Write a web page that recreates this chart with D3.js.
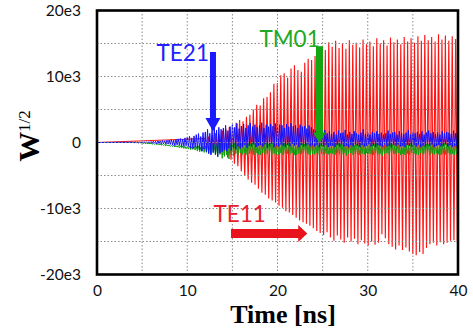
<!DOCTYPE html>
<html><head><meta charset="utf-8">
<script src="https://cdn.jsdelivr.net/npm/d3@7"></script>
<style>
body{margin:0;background:#fff;}
svg{display:block;}
</style></head>
<body>
<svg id="chart" width="473" height="335"></svg>
<script>
// ---------------- data (values in units of 1e3) ----------------
const xTicks = [0, 10, 20, 30, 40];
const xTickLabels = ["0", "10", "20", "30", "40"];
const yTicks = [-20, -10, 0, 10, 20];
const yTickLabels = ["-20e3", "-10e3", "0", "10e3", "20e3"];
const xGrid = [5, 10, 15, 20, 25, 30, 35];
const yGrid = [-15, -10, -5, 0, 5, 10, 15];

// TE11 (red): alternating peaks, sampled from 12 ns every 0.19 ns
const redStart = 12.0, redStep = 0.19;
const redValues = [
 0.6,-0.7, 0.9,-0.8, 1.1,-1.2, 1.4,-1.3, 1.3,-1.7, 1.8,-1.9, 2.0,-2.3, 2.4,-2.6,
 2.2,-3.2, 3.0,-3.6, 3.4,-4.4, 3.2,-5.0, 3.9,-5.6, 4.2,-6.1, 5.0,-6.4, 5.7,-7.0,
 5.6,-7.6, 6.7,-7.9, 6.9,-8.5, 7.6,-8.8, 8.9,-9.1, 9.0,-9.6, 10.2,-9.9, 10.5,-10.4,
 9.8,-10.6, 11.2,-11.0, 11.7,-11.4, 11.0,-11.8, 10.7,-12.1, 12.1,-12.3, 12.7,-12.6, 12.5,-13.0,
 13.1,-13.4, 13.8,-13.7, 14.6,-14.0, 14.0,-13.6, 15.2,-14.4, 14.5,-14.9, 15.4,-14.1, 14.3,-14.7,
 15.0,-15.2, 14.2,-14.4, 15.5,-15.0, 14.8,-14.6, 15.1,-15.4, 14.4,-14.8, 15.6,-15.3, 14.9,-15.6,
 15.3,-15.0, 14.6,-15.5, 15.8,-15.2, 15.0,-13.9, 15.5,-14.5, 14.7,-15.4, 15.9,-15.8, 15.2,-16.2,
 15.6,-15.6, 14.9,-16.3, 16.0,-15.9, 15.3,-16.5, 15.8,-16.9, 15.1,-17.1, 16.1,-16.6, 15.4,-16.9,
 16.3,-16.0, 15.5,-15.4, 16.0,-15.2, 15.3,-15.6, 16.4,-15.1, 15.6,-15.4, 16.2,-15.2, 15.4,-14.9,
 16.1,-14.8, 15.7,-15.1
];

// TE21 (blue): flat until 4 ns, then sampled every 0.125 ns
const blueStart = 4, blueStep = 0.125;
const blueValues = [
 0.03,-0.04,0.06,-0.02,0.05,-0.07,0.04,-0.05,
 0.08,-0.06,0.1,-0.09,0.07,-0.1,0.12,-0.08,
 0.15,-0.12,0.2,-0.1,0.18,-0.22,0.25,-0.15,
 0.22,-0.28,0.3,-0.2,0.26,-0.3,0.33,-0.25,
 0.38,-0.3,0.45,-0.4,0.35,-0.5,0.48,-0.36,
 0.55,-0.45,0.6,-0.62,0.5,-0.58,0.7,-0.5,
 0.8,-0.6,0.95,-0.85,0.7,-0.9,1.0,-0.75,
 1.2,-0.9,1.35,-1.1,0.9,-1.3,1.5,-1.0,
 1.6,-1.4,2.0,-1.7,1.4,-1.9,2.2,-1.5,
 2.5,-1.8,1.9,-2.1,2.3,-1.6,2.0,-1.4,
 2.2,-1.1,2.6,-1.3,1.8,-0.9,2.4,-1.2,
 2.7,-0.8,2.3,-1.0,2.9,-0.6,2.1,-0.9,
 2.5,-0.7,2.8,-0.4,2.2,-0.8,2.6,-0.5,
 2.9,-0.6,2.4,-0.3,2.7,-0.7,2.3,-0.5,
 2.6,-0.4,3.0,-0.6,2.2,-0.3,2.7,-0.8,
 2.4,-0.5,2.8,-0.2,2.5,-0.7,2.9,-0.4,
 2.3,-0.6,2.7,-0.3,2.6,-0.5,2.2,-0.7,
 2.8,-0.4,2.4,-0.6,2.9,-0.2,2.5,-0.5,
 2.6,-0.3,2.2,-0.7,2.7,-0.4,2.4,-0.6,
 2.5,-0.5,2.1,-0.3,2.6,-0.6,2.3,-0.4,
 2.0,-0.6,1.8,-0.4,2.2,-0.7,1.7,-0.5,
 1.6,-0.6,1.9,-0.4,1.4,-0.7,1.7,-0.5,
 1.3,-0.5,1.6,-0.7,1.2,-0.4,1.8,-0.6,
 1.4,-0.3,1.5,-0.6,1.9,-0.5,1.2,-0.7,
 1.6,-0.4,1.3,-0.6,1.7,-0.3,1.4,-0.5,
 1.2,-0.7,1.5,-0.4,2.0,-0.6,1.3,-0.5,
 1.5,-0.3,1.2,-0.6,1.6,-0.5,1.4,-0.7,
 1.7,-0.4,1.3,-0.5,1.5,-0.6,1.2,-0.3,
 1.4,-0.6,1.8,-0.5,1.3,-0.7,1.5,-0.4,
 1.6,-0.5,1.2,-0.3,1.7,-0.6,1.4,-0.5,
 1.3,-0.7,1.5,-0.4,1.9,-0.5,1.2,-0.6,
 1.5,-0.4,1.4,-0.6,1.6,-0.3,1.3,-0.7,
 1.7,-0.5,1.2,-0.6,1.5,-0.4,1.8,-0.5,
 1.4,-0.3,1.6,-0.7,1.3,-0.5,1.5,-0.4,
 1.2,-0.6,1.7,-0.5,1.4,-0.3,1.6,-0.6,
 1.5,-0.4,1.3,-0.7,1.8,-0.5,1.4,-0.6,
 0.5
];

// TM01 (green): flat until 4.5 ns, then sampled every 0.125 ns
const greenStart = 4.5, greenStep = 0.125;
const greenValues = [
 0,-0.02,0.01,-0.04,
 -0.05,-0.12,-0.04,-0.15,-0.08,-0.18,-0.1,-0.2,
 -0.12,-0.25,-0.15,-0.28,-0.18,-0.3,-0.2,-0.33,
 -0.25,-0.4,-0.3,-0.45,-0.32,-0.5,-0.35,-0.52,
 -0.4,-0.6,-0.42,-0.62,-0.45,-0.68,-0.48,-0.7,
 -0.45,-0.8,-0.5,-0.85,-0.52,-0.9,-0.55,-0.95,
 -0.6,-1.0,-0.55,-1.1,-0.65,-1.05,-0.6,-1.15,
 -0.6,-1.3,-0.5,-1.4,-0.7,-1.35,-0.55,-1.5,
 -0.5,-1.5,-0.4,-1.6,-0.6,-1.7,-0.3,-1.55,
 -0.2,-1.9,-0.4,-2.2,-0.1,-1.8,-0.3,-2.4,
 -0.2,-2.1,0.0,-1.9,-0.3,-2.5,-0.1,-1.8,
 -0.2,-2.0,0.0,-1.7,-0.3,-1.9,-0.1,-1.6,
 -0.1,-1.8,0.0,-1.6,-0.2,-1.9,-0.1,-1.7,
 -0.2,-1.7,0.1,-1.9,-0.1,-1.6,-0.3,-1.8,
 0.0,-1.9,-0.2,-1.6,-0.1,-1.8,0.1,-1.7,
 -0.2,-1.6,-0.1,-1.9,0.0,-1.7,-0.3,-1.8,
 -0.1,-1.8,-0.2,-1.6,0.1,-1.9,-0.1,-1.7,
 -0.3,-1.7,0.0,-1.8,-0.2,-1.6,-0.1,-1.9,
 -0.1,-1.9,-0.3,-1.7,0.0,-1.8,-0.2,-1.6,
 -0.2,-1.6,-0.1,-1.8,-0.3,-1.9,0.0,-1.7,
 -0.3,-1.8,-0.2,-1.6,-0.4,-1.9,-0.1,-1.7,
 -0.2,-1.9,-0.4,-1.7,-0.1,-1.8,-0.3,-1.6,
 -0.4,-1.7,-0.2,-1.9,-0.3,-1.6,-0.1,-1.8,
 -0.2,-1.8,-0.3,-1.6,-0.4,-2.0,-0.2,-1.7,
 -0.3,-1.6,-0.1,-1.9,-0.4,-1.7,-0.2,-1.8,
 -0.4,-1.9,-0.2,-1.7,-0.3,-1.8,-0.1,-1.6,
 -0.2,-1.7,-0.4,-1.8,-0.2,-1.9,-0.3,-1.6,
 -0.1,-1.8,-0.3,-1.7,-0.2,-2.0,-0.4,-1.7,
 -0.3,-1.6,-0.2,-1.9,-0.1,-1.8,-0.3,-1.7,
 -0.4,-1.8,-0.1,-1.6,-0.3,-1.9,-0.2,-1.7,
 -0.2,-1.9,-0.3,-1.7,-0.4,-1.8,-0.1,-1.6,
 -0.3,-1.7,-0.2,-1.8,-0.1,-1.9,-0.3,-1.6,
 -0.2,-1.8,-0.4,-1.7,-0.2,-1.6,-0.3,-1.9,
 -0.1,-1.7,-0.3,-1.8,-0.2,-1.6,-0.4,-1.8,
 -0.3,-1.9,-0.2,-1.7,-0.1,-1.8,-0.3,-1.6,
 -0.2,-1.8,-0.3,-1.7,-0.4,-1.9,-0.2,-1.7,
 -1.0
];

// annotations (data coordinates: ns, 1e3)
const labels = [
  {text: "TE21", t: 6.6,  v: 12.3, color: "#2222ff"},
  {text: "TM01", t: 18.0, v: 14.4, color: "#22a822"},
  {text: "TE11", t: 12.9, v: -12.1, color: "#e8202a"}
];
const te21Arrow = {t: 12.85, v0: 13.7, vBase: 3.7, vTip: 1.7};
const tm01Arrow = {t: 24.65, v0: 14.6, vBase: 1.5, vTip: -0.1};
const te11Arrow = {v: -13.8, t0: 14.85, tBase: 22.3, tTip: 23.3};

// ---------------- drawing ----------------
const svg = d3.select("#chart");
const x = d3.scaleLinear().domain([0, 40]).range([97, 458]);
const y = d3.scaleLinear().domain([-20, 20]).range([274.5, 10.5]);

svg.append("defs").append("clipPath").attr("id", "clip")
  .append("rect").attr("x", 97).attr("y", 10.5).attr("width", 361).attr("height", 264);

const plot = svg.append("g").attr("clip-path", "url(#clip)");

function series(start, step, vals) {
  const pts = vals.map((v, i) => [start + i * step, v]);
  if (start > 0) pts.unshift([0, 0]);
  return pts;
}
const line = d3.line().x(d => x(d[0])).y(d => y(d[1]));

plot.append("path").datum(series(redStart, redStep, redValues))
  .attr("d", line).attr("fill", "none").attr("stroke", "#ff1414").attr("stroke-width", 1.15);
plot.append("path").datum(series(greenStart, greenStep, greenValues))
  .attr("d", line).attr("fill", "none").attr("stroke", "#10a010").attr("stroke-width", 1);
plot.append("path").datum(series(blueStart, blueStep, blueValues))
  .attr("d", line).attr("fill", "none").attr("stroke", "#1010ff").attr("stroke-width", 1);

// grid (drawn over the data like the original)
const grid = svg.append("g").attr("stroke", "#8a8a8a").attr("stroke-width", 1)
  .attr("stroke-dasharray", "1.5,2");
grid.selectAll("line.gx").data(xGrid).join("line")
  .attr("x1", d => x(d)).attr("x2", d => x(d)).attr("y1", y(20)).attr("y2", y(-20));
grid.selectAll("line.gy").data(yGrid).join("line")
  .attr("x1", x(0)).attr("x2", x(40)).attr("y1", d => y(d)).attr("y2", d => y(d));

// axes
const xAxis = d3.axisBottom(x).tickValues(xTicks).tickSize(0).tickPadding(10)
  .tickFormat((d, i) => xTickLabels[i]);
const yAxis = d3.axisLeft(y).tickValues(yTicks).tickSize(0).tickPadding(16)
  .tickFormat((d, i) => yTickLabels[i]);
const gx = svg.append("g").attr("transform", `translate(0,${y(-20)})`).call(xAxis);
const gy = svg.append("g").attr("transform", `translate(${x(0)},0)`).call(yAxis);
[gx, gy].forEach(g => {
  g.select(".domain").remove();
  g.selectAll("text").attr("font-family", "Lato, 'Open Sans', sans-serif")
    .attr("font-size", 15.5).attr("fill", "#111");
});

// frame
svg.append("rect").attr("x", x(0)).attr("y", y(20)).attr("width", x(40) - x(0))
  .attr("height", y(-20) - y(20)).attr("fill", "none").attr("stroke", "#000").attr("stroke-width", 2.6);

// arrows
function vArrow(a, color, shaftW, headW) {
  const cx = x(a.t);
  const pts = [
    [cx - shaftW / 2, y(a.v0)], [cx + shaftW / 2, y(a.v0)], [cx + shaftW / 2, y(a.vBase)],
    [cx + headW / 2, y(a.vBase)], [cx, y(a.vTip)], [cx - headW / 2, y(a.vBase)],
    [cx - shaftW / 2, y(a.vBase)]
  ];
  svg.append("polygon").attr("points", pts.map(p => p.join(",")).join(" ")).attr("fill", color);
}
vArrow(te21Arrow, "#1a1aff", 6, 15);
vArrow(tm01Arrow, "#12a612", 7, 13);
(function () {
  const a = te11Arrow, cy = y(a.v), sh = 9, hh = 17;
  const pts = [
    [x(a.t0), cy - sh / 2], [x(a.tBase), cy - sh / 2], [x(a.tBase), cy - hh / 2],
    [x(a.tTip), cy], [x(a.tBase), cy + hh / 2], [x(a.tBase), cy + sh / 2], [x(a.t0), cy + sh / 2]
  ];
  svg.append("polygon").attr("points", pts.map(p => p.join(",")).join(" ")).attr("fill", "#e8141c");
})();

// labels
svg.selectAll("text.lab").data(labels).join("text").attr("class", "lab")
  .attr("x", d => x(d.t)).attr("y", d => y(d.v)).text(d => d.text)
  .attr("fill", d => d.color).attr("font-family", "Lato, 'Open Sans', sans-serif")
  .attr("font-size", 22.5);

// axis titles
svg.append("text").attr("x", 283).attr("y", 323).attr("text-anchor", "middle")
  .attr("font-family", "'Liberation Serif', 'Times New Roman', serif").attr("font-weight", "bold")
  .attr("font-size", 26).attr("fill", "#000").text("Time [ns]");
const yt = svg.append("text").attr("transform", "translate(39,136) rotate(-90)")
  .attr("text-anchor", "middle").attr("font-family", "'Liberation Serif', 'Times New Roman', serif")
  .attr("fill", "#000");
yt.append("tspan").attr("font-weight", "bold").attr("font-size", 30).text("W");
yt.append("tspan").attr("font-size", 17).attr("dy", -9).text("1/2");
</script>
</body></html>
